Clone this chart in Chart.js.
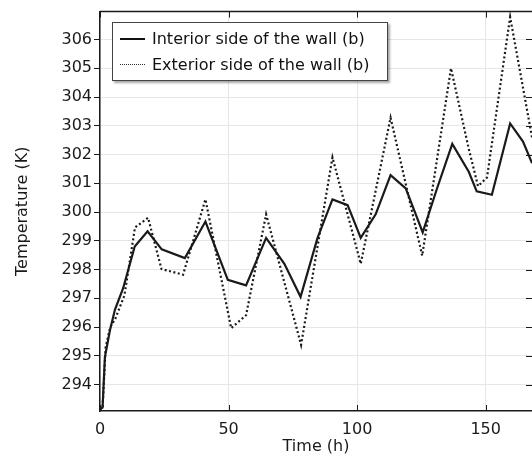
<!DOCTYPE html>
<html>
<head>
<meta charset="utf-8">
<script src="https://cdn.jsdelivr.net/npm/chart.js@4.4.1/dist/chart.umd.min.js"></script>
<style>
    body { margin: 0; background: #fff; }
    #wrap { position: relative; width: 532px; height: 459px; }
    #legend {
        position: absolute; left: 112px; top: 22px; width: 274px; height: 57px;
        border: 1px solid #444; background: #fff;
        box-shadow: 2px 2px 2px rgba(0,0,0,0.35);
        font-family: "DejaVu Sans", sans-serif; font-size: 16px; color: #111;
    }
    #legend .row { position: absolute; left: 0; height: 20px; line-height: 20px; white-space: nowrap; }
    #legend .swatch { position: absolute; left: 7px; top: 9px; width: 25px; height: 0; }
    #legend .txt { position: absolute; left: 39px; top: 0; }
</style>
</head>
<body>
<div id="wrap">
    <canvas id="tempChart" width="532" height="459"></canvas>
    <div id="legend"></div>
</div>
<script>
// interior side of the wall (b)
const interiorTime = [0, 1, 1.9, 3.9, 5.8, 9, 13.5, 18.5, 24, 33, 41, 49.7, 56.8, 64.6, 71.7, 78, 84.6, 90.4, 96.3, 101.4, 107.2, 113, 118.9, 125.5, 131, 137, 143.4, 146.5, 152.4, 159.5, 164.5, 168];
const interiorTemp = [293.15, 293.2, 294.95, 295.9, 296.6, 297.35, 298.8, 299.33, 298.7, 298.4, 299.67, 297.64, 297.45, 299.1, 298.2, 297.05, 299.1, 300.44, 300.24, 299.1, 299.92, 301.28, 300.82, 299.29, 300.8, 302.37, 301.4, 300.72, 300.6, 303.08, 302.45, 301.7];

// exterior side of the wall (b)
const exteriorTime = [0, 1, 2.2, 4, 6, 9.5, 13.6, 18.7, 23.9, 32.3, 41, 51, 56.8, 64.6, 78.2, 90.4, 101.4, 113, 125.3, 136.5, 143.4, 147, 150.5, 159.5, 168];
const exteriorTemp = [293.1, 293.2, 295.3, 296.0, 296.3, 297.1, 299.46, 299.8, 298.02, 297.82, 300.44, 295.96, 296.41, 299.92, 295.38, 301.9, 298.2, 303.28, 298.48, 305.0, 302.2, 300.9, 301.2, 306.78, 302.6];

const seriesLabels = ['Interior side of the wall (b)', 'Exterior side of the wall (b)'];
const xTicks = [0, 50, 100, 150];
const yTicks = [294, 295, 296, 297, 298, 299, 300, 301, 302, 303, 304, 305, 306];

function toPoints(xs, ys) {
    return xs.map((x, i) => ({ x: x, y: ys[i] }));
}

const FONT = '"DejaVu Sans", sans-serif';
const INK = '#1a1a1a';

// frame: top border plus the short inward ticks on top / right / bottom
const frameTicks = {
    id: 'frameTicks',
    afterDraw(chart) {
        const ctx = chart.ctx;
        const { left, right, top, bottom } = chart.chartArea;
        const xs = chart.scales.x, ys = chart.scales.y;
        const len = 6;
        ctx.save();
        ctx.strokeStyle = INK;
        ctx.lineWidth = 1.5;
        ctx.beginPath();
        ctx.moveTo(left, top);
        ctx.lineTo(right, top);
        ctx.stroke();
        ctx.lineWidth = 1;
        ctx.beginPath();
        xTicks.forEach(v => {
            const px = Math.round(xs.getPixelForValue(v)) + 0.5;
            ctx.moveTo(px, bottom);
            ctx.lineTo(px, bottom - len);
            ctx.moveTo(px, top);
            ctx.lineTo(px, top + len);
        });
        yTicks.forEach(v => {
            const py = Math.round(ys.getPixelForValue(v)) + 0.5;
            ctx.moveTo(right, py);
            ctx.lineTo(right - len, py);
        });
        ctx.stroke();
        ctx.restore();
    }
};

const chartData = {
    datasets: [{
        label: seriesLabels[0],
        data: toPoints(interiorTime, interiorTemp),
        borderColor: INK,
        borderWidth: 2.2,
        pointRadius: 0,
        tension: 0,
        fill: false
    }, {
        label: seriesLabels[1],
        data: toPoints(exteriorTime, exteriorTemp),
        borderColor: INK,
        borderWidth: 2.2,
        borderDash: [2, 2.5],
        pointRadius: 0,
        tension: 0,
        fill: false
    }]
};

const config = {
    type: 'line',
    data: chartData,
    options: {
        responsive: false,
        animation: false,
        layout: { padding: { top: 9.5, right: 0, left: 0, bottom: 0 } },
        plugins: {
            legend: { display: false },
            tooltip: { enabled: false }
        },
        scales: {
            x: {
                type: 'linear',
                min: 0,
                max: 168,
                afterFit: s => { s.height = 48; },
                afterBuildTicks: s => { s.ticks = xTicks.map(v => ({ value: v })); },
                ticks: { font: { family: FONT, size: 16 }, color: INK, padding: 9 },
                grid: { color: '#e6e6e6', drawTicks: false },
                border: { color: INK, width: 1.5 },
                title: {
                    display: true,
                    text: 'Time (h)',
                    font: { family: FONT, size: 16 },
                    color: INK,
                    padding: { top: 0, bottom: 3 }
                }
            },
            y: {
                min: 293.08,
                max: 306.97,
                afterFit: s => { s.width = 100; },
                afterBuildTicks: s => { s.ticks = yTicks.map(v => ({ value: v })); },
                ticks: { font: { family: FONT, size: 16 }, color: INK, padding: 2 },
                grid: { color: '#e6e6e6', tickLength: 6, tickColor: INK },
                border: { color: INK, width: 1.5 },
                title: {
                    display: true,
                    text: 'Temperature (K)',
                    font: { family: FONT, size: 16 },
                    color: INK,
                    padding: { top: 13, bottom: 0 }
                }
            }
        }
    },
    plugins: [frameTicks]
};

const myChart = new Chart(document.getElementById('tempChart'), config);

// legend box built from the dataset labels
const legend = document.getElementById('legend');
myChart.data.datasets.forEach((ds, i) => {
    const row = document.createElement('div');
    row.className = 'row';
    row.style.top = (6 + i * 26) + 'px';
    const sw = document.createElement('span');
    sw.className = 'swatch';
    sw.style.borderTop = ds.borderDash ? '1.5px dotted #333' : '2px solid #111';
    const txt = document.createElement('span');
    txt.className = 'txt';
    txt.textContent = ds.label;
    row.appendChild(sw);
    row.appendChild(txt);
    legend.appendChild(row);
});
</script>
</body>
</html>
